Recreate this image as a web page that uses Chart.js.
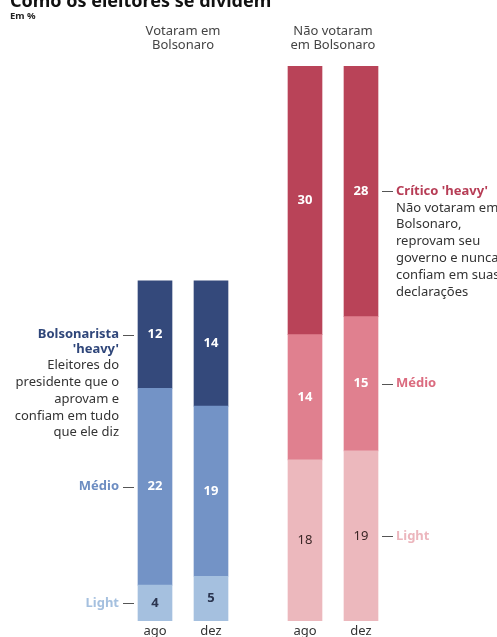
<!DOCTYPE html>
<html>
<head>
<meta charset="utf-8">
<script src="https://cdn.jsdelivr.net/npm/chart.js@4.4.0/dist/chart.umd.min.js"></script>
<style>
  html, body { margin: 0; padding: 0; background: #fff; }
  #quadro { position: relative; width: 497px; height: 637px; overflow: hidden; }
  #quadro canvas { position: absolute; left: 0; top: 0; }
</style>
</head>
<body>
<div id="quadro">
  <canvas id="graficoVotaram" width="497" height="637"></canvas>
  <canvas id="graficoNaoVotaram" width="497" height="637"></canvas>
</div>
<script>
// períodos da pesquisa
const periodos = ['ago', 'dez'];

// eleitores que votaram em Bolsonaro (%)
const votaramHeavy = [12, 14];
const votaramMedio = [22, 19];
const votaramLight = [4, 5];

// eleitores que não votaram em Bolsonaro (%)
const naoVotaramHeavy = [30, 28];
const naoVotaramMedio = [14, 15];
const naoVotaramLight = [18, 19];

const tituloGrafico = 'Como os eleitores se dividem';
const subtitulo = 'Em %';
const cabecalhoVotaram = ['Votaram em', 'Bolsonaro'];
const cabecalhoNaoVotaram = ['Não votaram', 'em Bolsonaro'];

const textoBolsonarista = ['Bolsonarista', "'heavy'"];
const descBolsonarista = ['Eleitores do', 'presidente que o', 'aprovam e', 'confiam em tudo', 'que ele diz'];
const textoCritico = ["Crítico 'heavy'"];
const descCritico = ['Não votaram em', 'Bolsonaro,', 'reprovam seu', 'governo e nunca', 'confiam em suas', 'declarações'];

const FONTE = '"Noto Sans", "Open Sans", sans-serif';
const escalaMax = Math.max(...naoVotaramHeavy.map((v, i) => v + naoVotaramMedio[i] + naoVotaramLight[i]));

// escreve os números dentro de cada segmento
const rotulosValores = {
  id: 'rotulosValores',
  afterDatasetsDraw(chart) {
    const ctx = chart.ctx;
    chart.data.datasets.forEach((ds, i) => {
      const meta = chart.getDatasetMeta(i);
      meta.data.forEach((barra, j) => {
        ctx.save();
        ctx.font = ds.fonteValor;
        ctx.fillStyle = ds.corValor;
        ctx.textAlign = 'center';
        ctx.textBaseline = 'middle';
        ctx.fillText(ds.data[j], barra.x, (barra.y + barra.base) / 2);
        ctx.restore();
      });
    });
  }
};

// cabeçalho, eixo de meses e legendas laterais
const anotacoes = {
  id: 'anotacoes',
  afterDraw(chart, args, opts) {
    const ctx = chart.ctx;
    const xs = chart.scales.x;
    ctx.save();

    if (opts.titulo) {
      ctx.font = 'bold 18px ' + FONTE;
      ctx.fillStyle = '#111';
      ctx.textAlign = 'left';
      ctx.textBaseline = 'alphabetic';
      ctx.fillText(tituloGrafico, 10, 7);
      ctx.font = 'bold 9.5px ' + FONTE;
      ctx.fillStyle = '#222';
      ctx.fillText(subtitulo, 10, 19);
    }

    // cabeçalho do grupo
    const centro = (xs.getPixelForValue(0) + xs.getPixelForValue(1)) / 2;
    ctx.font = '13px ' + FONTE;
    ctx.fillStyle = '#444';
    ctx.textAlign = 'center';
    ctx.textBaseline = 'middle';
    opts.cabecalho.forEach((linha, k) => ctx.fillText(linha, centro, 31 + k * 14));

    // meses
    ctx.fillStyle = '#333';
    ctx.textBaseline = 'middle';
    periodos.forEach((p, k) => ctx.fillText(p, xs.getPixelForValue(k), 631));

    // legendas ligadas a uma das barras
    const idx = opts.lado === 'esq' ? 0 : 1;
    chart.data.datasets.forEach((ds, i) => {
      const barra = chart.getDatasetMeta(i).data[idx];
      const y = (barra.y + barra.base) / 2;
      const borda = opts.lado === 'esq' ? barra.x - barra.width / 2 - 4 : barra.x + barra.width / 2 + 4;
      const fim = opts.lado === 'esq' ? borda - 11 : borda + 11;
      const xTexto = opts.lado === 'esq' ? fim - 4 : fim + 3;

      ctx.strokeStyle = '#555';
      ctx.lineWidth = 1;
      ctx.beginPath();
      ctx.moveTo(borda, Math.round(y) + 0.5);
      ctx.lineTo(fim, Math.round(y) + 0.5);
      ctx.stroke();

      ctx.textAlign = opts.lado === 'esq' ? 'right' : 'left';
      ctx.textBaseline = 'middle';
      ctx.font = 'bold 13px ' + FONTE;
      ctx.fillStyle = ds.corLegenda;
      ds.legendaTitulo.forEach((t, k) => ctx.fillText(t, xTexto, y + k * 14.5));

      ctx.font = '13px ' + FONTE;
      ctx.fillStyle = '#333';
      const inicio = y + ds.legendaTitulo.length * 14.5 + 2;
      (ds.legendaDesc || []).forEach((t, k) => ctx.fillText(t, xTexto, inicio + k * 16.8));
    });
    ctx.restore();
  }
};

function montarGrafico(id, series, padding, opts) {
  return new Chart(document.getElementById(id), {
    type: 'bar',
    data: { labels: periodos, datasets: series },
    options: {
      responsive: false,
      animation: false,
      layout: { padding },
      datasets: { bar: { barThickness: 34, borderWidth: 0 } },
      scales: {
        x: { display: false, stacked: true },
        y: { display: false, stacked: true, min: 0, max: escalaMax }
      },
      plugins: {
        legend: { display: false },
        tooltip: { enabled: false },
        anotacoes: opts
      }
    },
    plugins: [rotulosValores, anotacoes]
  });
}

montarGrafico('graficoVotaram', [
  { label: 'Light', data: votaramLight, backgroundColor: '#a5c0df',
    corValor: '#2b3550', fonteValor: 'bold 13px ' + FONTE,
    corLegenda: '#a5c0df', legendaTitulo: ['Light'] },
  { label: 'Médio', data: votaramMedio, backgroundColor: '#7393c6',
    corValor: '#fff', fonteValor: 'bold 13px ' + FONTE,
    corLegenda: '#6d8dc2', legendaTitulo: ['Médio'] },
  { label: 'Heavy', data: votaramHeavy, backgroundColor: '#34497b',
    corValor: '#fff', fonteValor: 'bold 13px ' + FONTE,
    corLegenda: '#2f467a', legendaTitulo: textoBolsonarista, legendaDesc: descBolsonarista }
], { left: 127, right: 258, top: 66, bottom: 16 },
   { lado: 'esq', cabecalho: cabecalhoVotaram, titulo: true });

montarGrafico('graficoNaoVotaram', [
  { label: 'Light', data: naoVotaramLight, backgroundColor: '#ecb8bd',
    corValor: '#3a2626', fonteValor: '13px ' + FONTE,
    corLegenda: '#ecb6bd', legendaTitulo: ['Light'] },
  { label: 'Médio', data: naoVotaramMedio, backgroundColor: '#e0808f',
    corValor: '#fff', fonteValor: 'bold 13px ' + FONTE,
    corLegenda: '#db6b7f', legendaTitulo: ['Médio'] },
  { label: 'Heavy', data: naoVotaramHeavy, backgroundColor: '#b94358',
    corValor: '#fff', fonteValor: 'bold 13px ' + FONTE,
    corLegenda: '#b73d56', legendaTitulo: textoCritico, legendaDesc: descCritico }
], { left: 277, right: 108, top: 66, bottom: 16 },
   { lado: 'dir', cabecalho: cabecalhoNaoVotaram, titulo: false });
</script>
</body>
</html>
